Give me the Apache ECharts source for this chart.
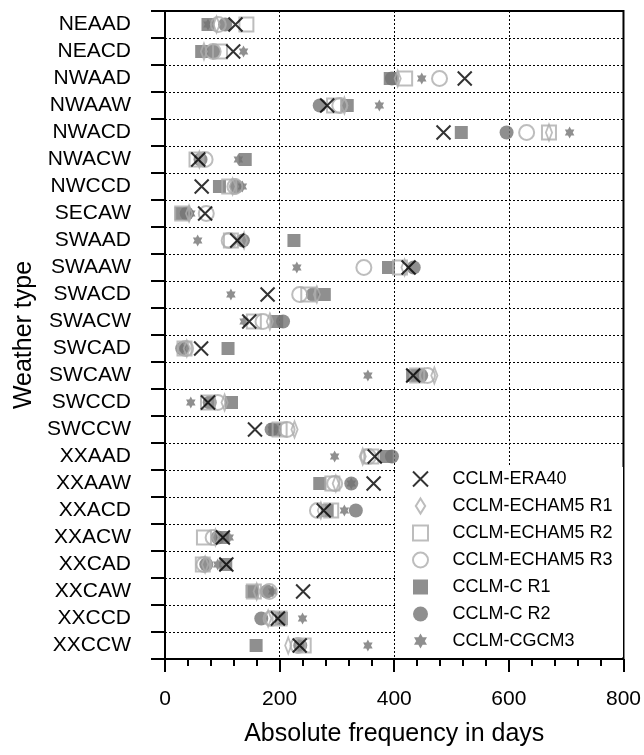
<!DOCTYPE html>
<html>
<head>
<meta charset="utf-8">
<script src="https://cdn.jsdelivr.net/npm/echarts@6/dist/echarts.min.js"></script>
<style>
    html, body { margin: 0; padding: 0; background: #fff; }
    #main { width: 644px; height: 755px; }
</style>
</head>
<body>
<div id="main"></div>
<script>
// weather types, top to bottom
const categories = ['NEAAD', 'NEACD', 'NWAAD', 'NWAAW', 'NWACD', 'NWACW', 'NWCCD', 'SECAW',
    'SWAAD', 'SWAAW', 'SWACD', 'SWACW', 'SWCAD', 'SWCAW', 'SWCCD', 'SWCCW',
    'XXAAD', 'XXAAW', 'XXACD', 'XXACW', 'XXCAD', 'XXCAW', 'XXCCD', 'XXCCW']

// days per weather type, one array per run
const era40 = [123, 119, 523, 283, 486, 58, 64, 70, 126, 425, 179, 147, 63, 433, 75, 157, 366, 364, 277, 101, 107, 241, 197, 235]
const echamR1 = [90, 68, 406, 313, 670, 60, 118, 42, 138, 418, 265, 183, 38, 470, 104, 226, 345, 298, 272, 88, 70, 160, 180, 215]
const echamR2 = [142, 96, 419, 295, 670, 55, 112, 30, 115, 410, 250, 155, 34, 440, 75, 200, 360, 292, 290, 68, 66, 155, 200, 242]
const echamR3 = [93, 84, 479, 305, 631, 70, 122, 72, 112, 347, 235, 171, 36, 458, 92, 213, 355, 296, 266, 84, 68, 182, 185, 232]
const cR1 = [75, 64, 393, 318, 517, 140, 95, 28, 225, 390, 278, 195, 110, 432, 116, 192, 386, 270, 283, 100, 106, 152, 203, 159]
const cR2 = [105, 84, 396, 270, 596, 62, 125, 38, 136, 434, 258, 206, 30, 447, 78, 186, 396, 325, 333, 92, 72, 178, 168, 236]
const cgcm3 = [75, 137, 448, 374, 706, 128, 135, 45, 57, 230, 115, 138, 30, 354, 45, 187, 296, 325, 313, 112, 92, 188, 240, 354]

const xTicks = [0, 200, 400, 600, 800]

const dark = '#737373'
const light = '#adadad'
const fontFamily = '"Liberation Sans", Arial, sans-serif'

const crossPath = 'path://M0,0L10,10M10,0L0,10'
const starPath = 'path://M0,-10L8.66,5L-8.66,5Z M0,10L-8.66,-5L8.66,-5Z'
const diamondPath = 'path://M5,0L10,8L5,16L0,8Z'
const squarePath = 'path://M0,0L10,0L10,10L0,10Z'

const toPoints = (arr) => arr.map((v, i) => [v, categories[i]])

const makeSeries = (name, values, symbol, size, style) => ({
    name: name,
    type: 'scatter',
    data: toPoints(values),
    symbol: symbol,
    symbolSize: size,
    symbolKeepAspect: true,
    itemStyle: style,
    emphasis: { disabled: true },
    silent: true
})

const filled = { color: dark, borderWidth: 0 }
const outline = { color: 'rgba(0,0,0,0)', borderColor: light, borderWidth: 2 }

// drawing order: filled marks below, outlines above, ERA40 on top
const series = [
    makeSeries('CCLM-CGCM3', cgcm3, starPath, [11, 12], filled),
    makeSeries('CCLM-C R1', cR1, squarePath, 13, filled),
    makeSeries('CCLM-C R2', cR2, 'circle', 14, filled),
    makeSeries('CCLM-ECHAM5 R1', echamR1, diamondPath, [10, 16], outline),
    makeSeries('CCLM-ECHAM5 R2', echamR2, squarePath, 14, outline),
    makeSeries('CCLM-ECHAM5 R3', echamR3, 'circle', 15, outline),
    makeSeries('CCLM-ERA40', era40, crossPath, 14, { color: 'rgba(0,0,0,0)', borderColor: '#000', borderWidth: 2 })
]

const chart = echarts.init(document.getElementById('main'), null, { renderer: 'canvas' })

const option = {
    backgroundColor: '#fff',
    animation: false,
    textStyle: { fontFamily: fontFamily },
    grid: {
        left: 165,
        right: 19,
        top: 11,
        bottom: 96,
        show: true,
        borderColor: '#000',
        borderWidth: 2,
        backgroundColor: 'transparent'
    },
    xAxis: {
        type: 'value',
        min: xTicks[0],
        max: xTicks[xTicks.length - 1],
        interval: 200,
        name: 'Absolute frequency in days',
        nameLocation: 'middle',
        nameGap: 63,
        nameTextStyle: { fontSize: 25, color: '#000', fontFamily: fontFamily },
        axisLine: { lineStyle: { color: '#000', width: 2 } },
        axisTick: { show: true, length: 13, lineStyle: { color: '#000', width: 2 } },
        minorTick: { show: true, splitNumber: 5, length: 7, lineStyle: { color: '#000', width: 2 } },
        axisLabel: { fontSize: 21, color: '#000', margin: 30, fontFamily: fontFamily },
        splitLine: { show: true, lineStyle: { color: '#000', width: 1, type: [2, 2] } }
    },
    yAxis: {
        type: 'category',
        data: categories,
        inverse: true,
        name: 'Weather type',
        nameLocation: 'middle',
        nameGap: 128,
        nameTextStyle: { fontSize: 25, color: '#000', fontFamily: fontFamily },
        axisLine: { lineStyle: { color: '#000', width: 2 } },
        axisTick: { show: true, interval: 0, length: 14, lineStyle: { color: '#000', width: 2 } },
        axisLabel: { interval: 0, fontSize: 21, color: '#000', margin: 34, fontFamily: fontFamily },
        splitLine: { show: true, interval: 0, lineStyle: { color: '#000', width: 1, type: [2, 2] } }
    },
    graphic: [{
        type: 'rect',
        left: 395,
        top: 467,
        z: 1,
        shape: { width: 228, height: 190 },
        style: { fill: '#fff' },
        silent: true
    }],
    legend: {
        orient: 'vertical',
        left: 412,
        top: 470,
        padding: 0,
        itemWidth: 16,
        itemHeight: 15,
        itemGap: 9,
        selectedMode: false,
        data: ['CCLM-ERA40', 'CCLM-ECHAM5 R1', 'CCLM-ECHAM5 R2', 'CCLM-ECHAM5 R3',
            'CCLM-C R1', 'CCLM-C R2', 'CCLM-CGCM3'],
        textStyle: { fontSize: 18, color: '#000', fontFamily: fontFamily, padding: [0, 0, 0, 19] }
    },
    series: series
}

chart.setOption(option)
</script>
</body>
</html>
